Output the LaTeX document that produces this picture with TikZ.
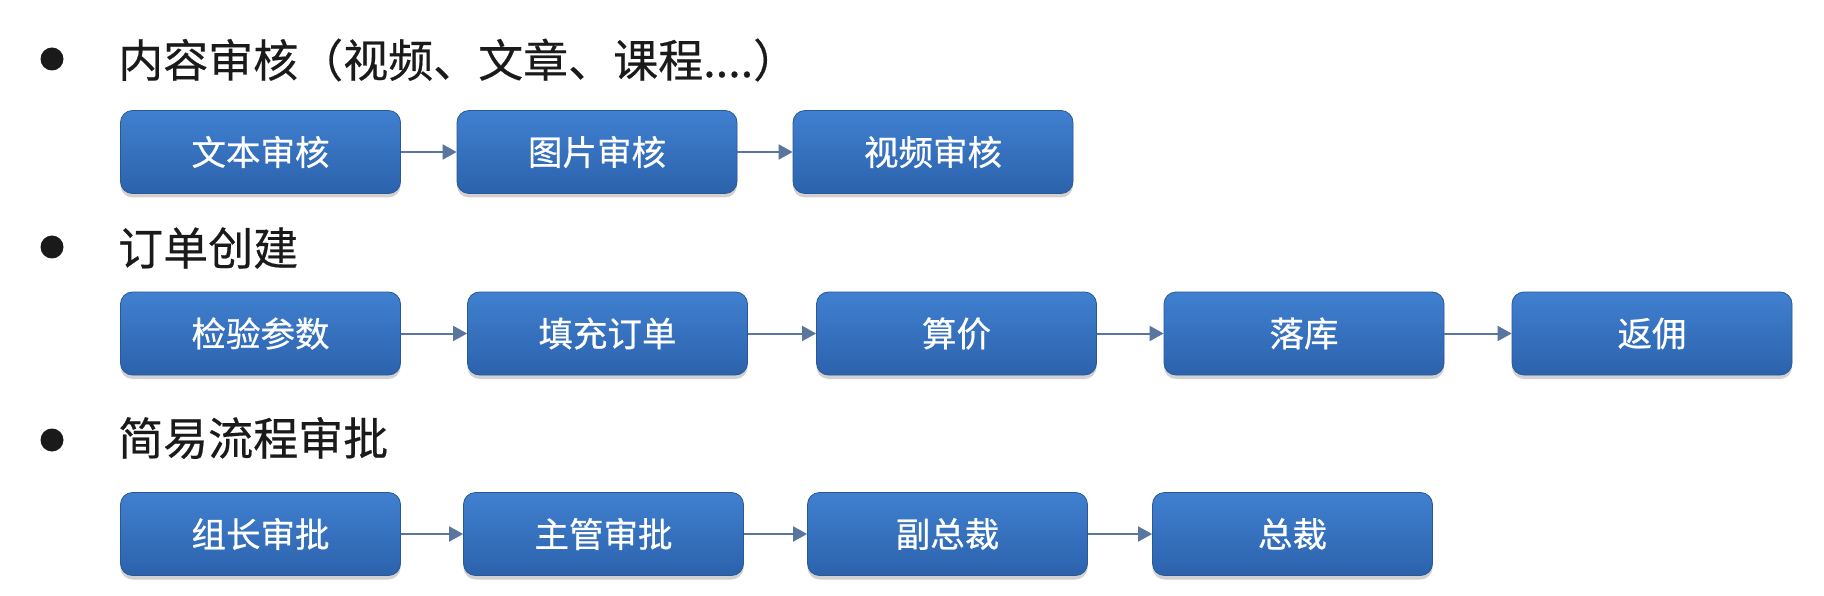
\documentclass[tikz,border=0pt]{standalone}
\usepackage{fontspec}
\setmainfont{Noto Sans CJK SC}
\newfontfamily\boxfont[FakeBold=0.6]{Noto Sans CJK SC}
\newfontfamily\headfont[FakeBold=0.4]{Noto Sans CJK SC}
\usetikzlibrary{arrows.meta,shadows}
\definecolor{boxtop}{RGB}{64,128,208}
\definecolor{boxbot}{RGB}{44,98,172}
\definecolor{boxedge}{RGB}{42,88,150}
\definecolor{arrowc}{RGB}{90,118,158}
\definecolor{titlec}{RGB}{26,26,26}
\tikzset{
  flowbox/.style={rounded corners=12pt, draw=boxedge, line width=0.8pt,
    top color=boxtop, bottom color=boxbot, text=white,
    minimum width=280pt, minimum height=83pt, inner sep=0pt,
    font=\boxfont\fontsize{34.5}{34.5}\selectfont,
    drop shadow={shadow xshift=0pt, shadow yshift=-4pt, opacity=0.18, fill=black}},
  flowarrow/.style={draw=arrowc, line width=2pt, -{Triangle[length=14pt,width=15pt]}},
  bulletdot/.style={circle, fill=titlec, minimum size=23pt, inner sep=0pt},
  titletext/.style={anchor=west, inner sep=0pt, text=titlec, font=\headfont\fontsize{45}{45}\selectfont}
}
\begin{document}
\begin{tikzpicture}[x=1pt,y=-1pt]
\useasboundingbox (0,0) rectangle (1824,596);
\fill[white] (0,0) rectangle (1824,596);
% section 1
\node[bulletdot] (d1) at (52,59) {};
\node[titletext] (t1) at (118,60) {内容审核（视频、文章、课程....）};
\node[flowbox] (a1) at (260.5,152) {文本审核};
\node[flowbox] (a2) at (597,152) {图片审核};
\node[flowbox] (a3) at (933,152) {视频审核};
\draw[flowarrow] (a1) -- (a2);
\draw[flowarrow] (a2) -- (a3);
% section 2
\node[bulletdot] (d2) at (52,247) {};
\node[titletext] (t2) at (118,248) {订单创建};
\node[flowbox] (b1) at (260.5,333.5) {检验参数};
\node[flowbox] (b2) at (607.5,333.5) {填充订单};
\node[flowbox] (b3) at (956.5,333.5) {算价};
\node[flowbox] (b4) at (1304,333.5) {落库};
\node[flowbox] (b5) at (1652,333.5) {返佣};
\draw[flowarrow] (b1) -- (b2);
\draw[flowarrow] (b2) -- (b3);
\draw[flowarrow] (b3) -- (b4);
\draw[flowarrow] (b4) -- (b5);
% section 3
\node[bulletdot] (d3) at (52,440) {};
\node[titletext] (t3) at (118,438) {简易流程审批};
\node[flowbox] (c1) at (260.5,534) {组长审批};
\node[flowbox] (c2) at (603.5,534) {主管审批};
\node[flowbox] (c3) at (947.5,534) {副总裁};
\node[flowbox] (c4) at (1292.5,534) {总裁};
\draw[flowarrow] (c1) -- (c2);
\draw[flowarrow] (c2) -- (c3);
\draw[flowarrow] (c3) -- (c4);
\end{tikzpicture}
\end{document}
